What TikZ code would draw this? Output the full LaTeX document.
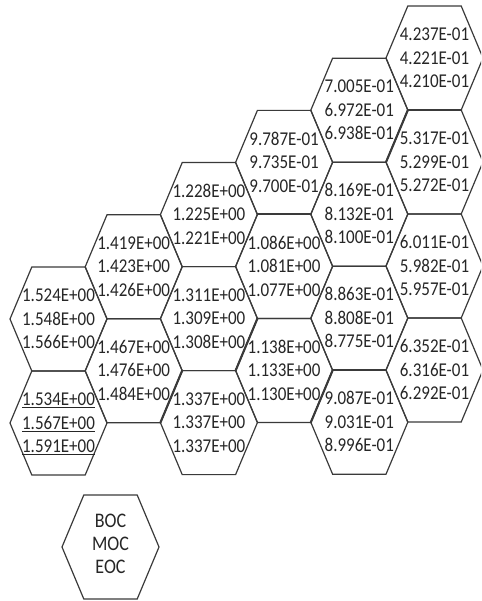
\documentclass[tikz,border=0pt]{standalone}
\usepackage{fontspec}
\usepackage{graphicx}
\setmainfont{Carlito}
\definecolor{linecol}{HTML}{3A3A3A}
\definecolor{txtcol}{HTML}{262626}
\tikzset{
  hexline/.style={draw=linecol, line width=1.2pt, line join=miter},
  thickline/.style={draw=linecol, line width=2.1pt, line cap=round},
  val/.style={text=txtcol, font=\fontsize{17}{20.4}\selectfont, align=center, inner sep=0pt},
  legendtxt/.style={text=txtcol, font=\fontsize{18}{19.6}\selectfont, align=center, inner sep=0pt},
}
% hexagon: half top edge 26.7, half width 48.5, half height 52
\newcommand{\hexpath}[2]{%
  \draw[hexline] (#1-26.7,#2-52) -- (#1+26.7,#2-52) -- (#1+48.5,#2) -- (#1+26.7,#2+52) -- (#1-26.7,#2+52) -- (#1-48.5,#2) -- cycle;}
\newcommand{\hxc}[2]{\pgfmathsetmacro{\cx}{58.5+75.2*#1}\pgfmathsetmacro{\cy}{319-52.2*#1+104*#2}}
\newcommand{\hexcell}[2]{\hxc{#1}{#2}\hexpath{\cx}{\cy}}
\newcommand{\valbox}[3]{\scalebox{1}[1.15]{\begin{tabular}{@{}c@{}}#1\\#2\\#3\end{tabular}}}
% values: column, row, name, three lines
\newcommand{\vals}[6]{\hxc{#1}{#2}\node[val] (#3) at (\cx,\cy+1.5) {\valbox{#4}{#5}{#6}};}
% thick edges
\newcommand{\bottomedge}[2]{\hxc{#1}{#2}\draw[thickline] (\cx-26.7,\cy+52) -- (\cx+26.7,\cy+52);}
\newcommand{\lowright}[2]{\hxc{#1}{#2}\draw[thickline] (\cx+48.5,\cy) -- (\cx+26.7,\cy+52);}
\newcommand{\upleft}[2]{\hxc{#1}{#2}\draw[thickline] (\cx-48.5,\cy) -- (\cx-26.7,\cy-52);}
\begin{document}
\begin{tikzpicture}[x=1pt,y=-1pt]
\useasboundingbox (0,0) rectangle (481,601);
\clip (0,0) rectangle (481,601);
% cells
\hexcell{0}{0}\hexcell{0}{1}
\hexcell{1}{0}\hexcell{1}{1}
\hexcell{2}{0}\hexcell{2}{1}\hexcell{2}{2}
\hexcell{3}{0}\hexcell{3}{1}\hexcell{3}{2}
\hexcell{4}{0}\hexcell{4}{1}\hexcell{4}{2}\hexcell{4}{3}
\hexcell{5}{0}\hexcell{5}{1}\hexcell{5}{2}\hexcell{5}{3}
% darker boundary edges
\bottomedge{5}{0}
\lowright{4}{0}
\bottomedge{3}{0}
\bottomedge{4}{2}
\lowright{3}{2}
\lowright{2}{1}
\upleft{2}{2}
% values
\vals{0}{0}{c00}{1.524E+00}{1.548E+00}{1.566E+00}
\vals{0}{1}{c01}{\underline{1.534E+00}}{\underline{1.567E+00}}{\underline{1.591E+00}}
\vals{1}{0}{c10}{1.419E+00}{1.423E+00}{1.426E+00}
\vals{1}{1}{c11}{1.467E+00}{1.476E+00}{1.484E+00}
\vals{2}{0}{c20}{1.228E+00}{1.225E+00}{1.221E+00}
\vals{2}{1}{c21}{1.311E+00}{1.309E+00}{1.308E+00}
\vals{2}{2}{c22}{1.337E+00}{1.337E+00}{1.337E+00}
\vals{3}{0}{c30}{9.787E-01}{9.735E-01}{9.700E-01}
\vals{3}{1}{c31}{1.086E+00}{1.081E+00}{1.077E+00}
\vals{3}{2}{c32}{1.138E+00}{1.133E+00}{1.130E+00}
\vals{4}{0}{c40}{7.005E-01}{6.972E-01}{6.938E-01}
\vals{4}{1}{c41}{8.169E-01}{8.132E-01}{8.100E-01}
\vals{4}{2}{c42}{8.863E-01}{8.808E-01}{8.775E-01}
\vals{4}{3}{c43}{9.087E-01}{9.031E-01}{8.996E-01}
\vals{5}{0}{c50}{4.237E-01}{4.221E-01}{4.210E-01}
\vals{5}{1}{c51}{5.317E-01}{5.299E-01}{5.272E-01}
\vals{5}{2}{c52}{6.011E-01}{5.982E-01}{5.957E-01}
\vals{5}{3}{c53}{6.352E-01}{6.316E-01}{6.292E-01}
% legend
\hexpath{110.5}{547}
\node[legendtxt] (legend) at (110.5,546) {\valbox{BOC}{MOC}{EOC}};
\end{tikzpicture}
\end{document}
